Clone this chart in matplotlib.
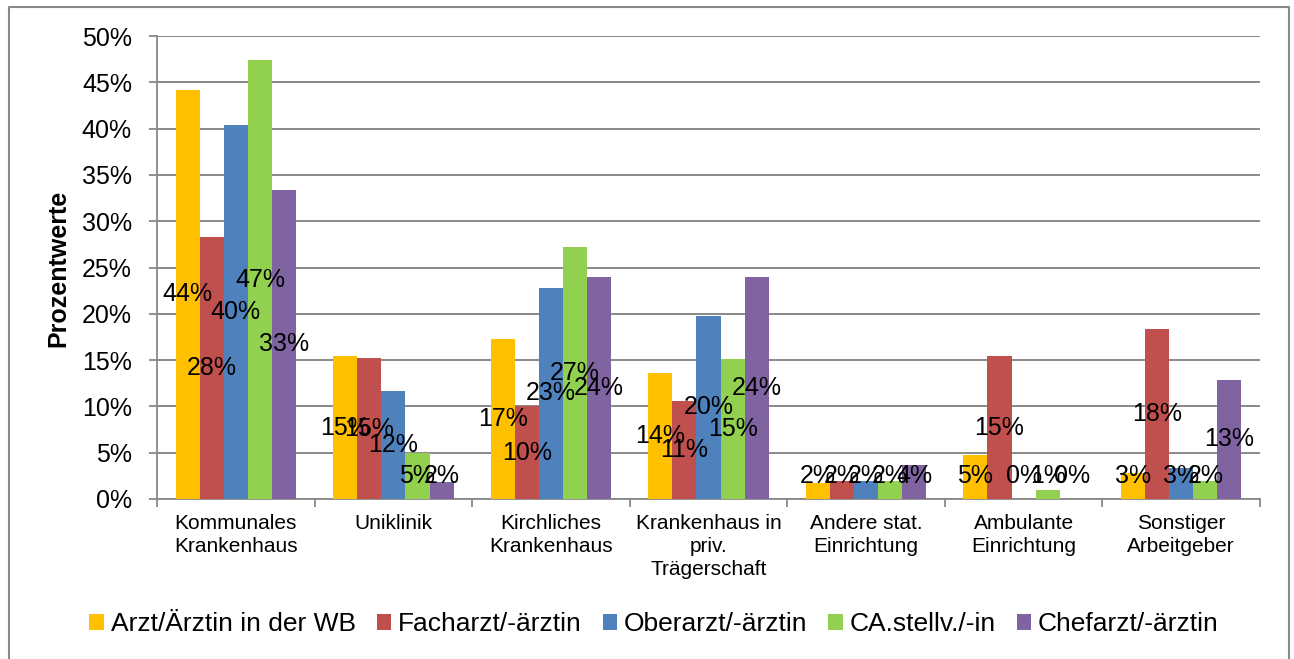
import numpy as np
import matplotlib
matplotlib.use("Agg")
import matplotlib.pyplot as plt
from matplotlib.lines import Line2D

plt.rcParams["font.family"] = ["Liberation Sans", "DejaVu Sans"]

# Data (percent values)
categories = [
    "Kommunales\nKrankenhaus",
    "Uniklinik",
    "Kirchliches\nKrankenhaus",
    "Krankenhaus in\npriv.\nTrägerschaft",
    "Andere stat.\nEinrichtung",
    "Ambulante\nEinrichtung",
    "Sonstiger\nArbeitgeber",
]
series_names = [
    "Arzt/Ärztin in der WB",
    "Facharzt/-ärztin",
    "Oberarzt/-ärztin",
    "CA.stellv./-in",
    "Chefarzt/-ärztin",
]
arzt_wb = [44.2, 15.4, 17.3, 13.6, 1.7, 4.8, 2.8]
facharzt = [28.3, 15.2, 10.0, 10.6, 1.9, 15.4, 18.4]
oberarzt = [40.4, 11.7, 22.8, 19.8, 1.9, 0.0, 3.4]
ca_stellv = [47.4, 5.0, 27.2, 15.1, 1.9, 1.0, 1.9]
chefarzt = [33.4, 1.8, 24.0, 24.0, 3.7, 0.0, 12.9]
yticks = [0, 5, 10, 15, 20, 25, 30, 35, 40, 45, 50]

colors = ["#FFC000", "#C0504D", "#4F81BD", "#92D050", "#8064A2"]
grey = "#898989"

W, H = 1294, 659
fig = plt.figure(figsize=(W / 100, H / 100), dpi=100)
ax = fig.add_axes([157 / W, 1 - 499 / H, (1260 - 157) / W, (499 - 36) / H])

all_series = [arzt_wb, facharzt, oberarzt, ca_stellv, chefarzt]
x = np.arange(len(categories))
bw = 0.153
for i, (vals, name, c) in enumerate(zip(all_series, series_names, colors)):
    pos = x + (i - 2) * bw
    ax.bar(pos, vals, width=bw, color=c, label=name, zorder=3)
    # labels sit in the middle of the bar, but not below the axis
    for px, v in zip(pos, vals):
        ax.text(px, max(v / 2, 2.5), f"{round(v):.0f}%", ha="center",
                va="center", fontsize=18, color="black", zorder=5)

ax.set_xlim(-0.5, len(categories) - 0.5)
ax.set_ylim(0, 50)
ax.set_yticks(yticks)
ax.set_yticklabels([f"{t}%" for t in yticks], fontsize=18)
ax.yaxis.grid(True, color=grey, linewidth=1.4, zorder=0)
ax.set_axisbelow(True)

# group separators as major ticks, category names on minor ticks
ax.set_xticks(np.arange(len(categories) + 1) - 0.5)
ax.set_xticklabels([])
ax.set_xticks(x, minor=True)
ax.set_xticklabels(categories, minor=True, fontsize=15, linespacing=1.25)
ax.tick_params(axis="x", which="major", length=6, color=grey, width=1.3)
ax.tick_params(axis="x", which="minor", length=0, pad=11)
ax.tick_params(axis="y", length=6, color=grey, width=1.3, pad=12)

for s in ["top", "right"]:
    ax.spines[s].set_visible(False)
for s in ["left", "bottom"]:
    ax.spines[s].set_color(grey)
    ax.spines[s].set_linewidth(1.3)

fig.text(58 / W, 1 - 268 / H, "Prozentwerte", rotation=90, ha="center",
         va="center", fontsize=18, fontweight="bold")

fig.legend(loc="center", bbox_to_anchor=(654 / W, 1 - 624 / H), ncol=5,
           frameon=False, fontsize=19, handlelength=0.55, handleheight=0.55,
           handletextpad=0.25, columnspacing=0.8, borderaxespad=0)

# outer frame of the chart area
frame = Line2D([9 / W, 9 / W, 1289 / W, 1289 / W],
               [-0.02, 1 - 7 / H, 1 - 7 / H, -0.02],
               transform=fig.transFigure, color=grey, linewidth=1.5)
fig.add_artist(frame)

fig.savefig("out.png", dpi=100)
